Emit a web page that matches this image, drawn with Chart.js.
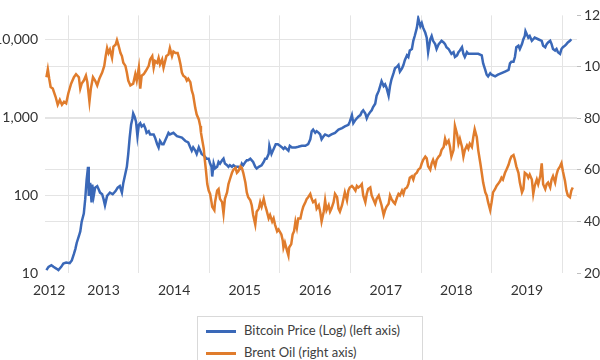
<!DOCTYPE html>
<html>
<head>
<meta charset="utf-8">
<script src="https://cdn.jsdelivr.net/npm/chart.js@4/dist/chart.umd.min.js"></script>
<style>
  html, body { margin: 0; padding: 0; background: #fff; overflow: hidden; }
  #wrap { position: relative; width: 600px; height: 360px; }
  #chartBox { position: absolute; left: 0; top: 0; width: 600px; height: 300px; }
  #legend {
    position: absolute; left: 197px; top: 316px; width: 226px; height: 50px;
    border: 1px solid #d9d9d9; box-sizing: border-box;
    font-family: Lato, "Open Sans", sans-serif; font-size: 13px; color: #404040;
  }
  .item { position: absolute; left: 8px; height: 16px; line-height: 16px; white-space: nowrap; }
  .item span.swatch { display: inline-block; width: 30px; height: 2.5px; vertical-align: middle; margin-right: 8px; }
</style>
</head>
<body>
<div id="wrap">
  <div id="chartBox"><canvas id="btcOil"></canvas></div>
  <div id="legend">
    <div class="item" style="top:5px"><span class="swatch" style="background:#3a68b8"></span>Bitcoin Price (Log) (left axis)</div>
    <div class="item" style="top:27px"><span class="swatch" style="background:#e07c2c"></span>Brent Oil (right axis)</div>
  </div>
</div>
<script>
/* ---- data ---- */
const yearLabels = ["2012", "2013", "2014", "2015", "2016", "2017", "2018", "2019"];
const gridYears = [2013, 2014, 2015, 2016, 2017, 2018, 2019, 2020];
const btcTicks = [10, 100, 1000, 10000];
const oilTicks = [20, 40, 60, 80, 100, 120];

const btcDates = [
  2012.69,2012.72,2012.76,2012.79,2012.83,2012.86,2012.90,2012.93,2012.97,2013.02,
  2013.05,2013.08,2013.10,2013.12,2013.15,2013.17,2013.19,2013.22,2013.24,2013.26,
  2013.28,2013.29,2013.31,2013.33,2013.34,2013.36,2013.38,2013.41,2013.43,2013.45,
  2013.48,2013.50,2013.52,2013.55,2013.57,2013.59,2013.63,2013.67,2013.70,2013.73,
  2013.76,2013.78,2013.81,2013.83,2013.85,2013.87,2013.89,2013.91,2013.92,2013.94,
  2013.96,2013.98,2014.00,2014.02,2014.04,2014.07,2014.09,2014.11,2014.14,2014.16,
  2014.21,2014.23,2014.26,2014.28,2014.30,2014.33,2014.35,2014.37,2014.40,2014.42,
  2014.44,2014.49,2014.54,2014.61,2014.66,2014.70,2014.73,2014.75,2014.77,2014.80,
  2014.82,2014.85,2014.87,2014.89,2014.92,2014.94,2014.96,2014.99,2015.01,2015.03,
  2015.04,2015.06,2015.08,2015.11,2015.13,2015.15,2015.18,2015.20,2015.22,2015.25,
  2015.27,2015.29,2015.32,2015.34,2015.37,2015.41,2015.44,2015.46,2015.48,2015.51,
  2015.53,2015.55,2015.58,2015.60,2015.62,2015.65,2015.67,2015.70,2015.74,2015.77,
  2015.79,2015.81,2015.84,2015.85,2015.88,2015.89,2015.92,2015.94,2015.97,2016.00,
  2016.03,2016.05,2016.07,2016.12,2016.14,2016.17,2016.22,2016.26,2016.31,2016.36,
  2016.40,2016.43,2016.45,2016.47,2016.50,2016.52,2016.55,2016.57,2016.59,2016.62,
  2016.64,2016.69,2016.73,2016.78,2016.83,2016.88,2016.92,2016.97,2016.99,2017.02,
  2017.04,2017.07,2017.09,2017.11,2017.14,2017.16,2017.18,2017.21,2017.23,2017.25,
  2017.28,2017.30,2017.32,2017.35,2017.37,2017.40,2017.42,2017.44,2017.47,2017.49,
  2017.51,2017.54,2017.56,2017.58,2017.61,2017.63,2017.66,2017.68,2017.70,2017.73,
  2017.75,2017.77,2017.80,2017.82,2017.84,2017.87,2017.89,2017.91,2017.94,2017.96,
  2017.99,2018.01,2018.03,2018.06,2018.08,2018.10,2018.13,2018.15,2018.17,2018.20,
  2018.22,2018.25,2018.27,2018.29,2018.32,2018.34,2018.36,2018.39,2018.43,2018.46,
  2018.48,2018.51,2018.53,2018.55,2018.58,2018.60,2018.62,2018.65,2018.67,2018.72,
  2018.76,2018.81,2018.86,2018.88,2018.91,2018.93,2018.95,2018.98,2019.00,2019.05,
  2019.09,2019.14,2019.19,2019.24,2019.26,2019.28,2019.31,2019.33,2019.35,2019.38,
  2019.40,2019.43,2019.45,2019.47,2019.48,2019.50,2019.52,2019.54,2019.57,2019.59,
  2019.61,2019.66,2019.71,2019.73,2019.76,2019.78,2019.80,2019.83,2019.85,2019.87,
  2019.90,2019.92,2019.94,2019.97,2019.99,2020.01,2020.04,2020.06,2020.08,2020.11,
  2020.13
];
const btcPrice = [
  10.9,12.0,12.6,12.0,11.4,10.9,12.0,13.2,13.6,13.4,
  14.5,17.6,20.3,24.5,29.7,34.3,45.7,58,89,158,
  232,98,144,81,137,98,125,131,119,108,
  103,89,74,98,103,108,103,113,125,131,
  108,144,192,232,340,550,804,975,1125,1021,
  883,575,804,844,766,804,731,634,664,604,
  604,550,453,412,498,453,453,498,575,634,
  604,634,575,550,498,476,412,374,412,374,
  340,412,374,340,324,309,295,295,255,232,
  174,255,221,232,268,255,281,295,255,243,
  232,243,232,243,232,232,221,255,243,268,
  281,281,295,281,268,232,221,232,243,268,
  295,295,340,432,340,357,412,453,453,432,
  412,393,412,374,432,412,412,420,432,432,
  453,523,664,697,634,664,634,604,523,575,
  604,575,604,634,697,731,766,804,883,1072,
  844,929,975,1021,1072,1178,1236,1125,975,1072,
  1178,1236,1359,1500,1901,2194,2531,2924,2531,2660,
  2411,1901,2531,3069,3707,4276,4496,4721,3891,4276,
  4721,5445,6281,5984,7257,7586,9660,11140,14160,18840,
  14860,16330,14160,12250,10620,6905,10120,11140,9660,8770,
  7586,8770,9204,9660,9204,8770,7980,7586,6574,6905,
  5984,6281,6905,7257,7980,6574,5984,6905,6574,6574,
  6574,6574,6281,4943,4083,3540,3373,3707,3540,3373,
  3540,3707,3891,4083,4943,5187,5187,5984,7980,8375,
  7586,8770,10120,11140,12850,11670,10620,11140,9660,10120,
  10620,10120,9660,8375,7980,8770,9204,9660,8770,7586,
  7257,7586,6905,6574,7586,7980,8375,8770,9204,9660,
  10120
];

const oilDates = [
  2012.69,2012.71,2012.73,2012.75,2012.78,2012.82,2012.85,2012.88,2012.91,2012.94,
  2012.97,2013.00,2013.04,2013.08,2013.11,2013.15,2013.17,2013.19,2013.22,2013.25,
  2013.27,2013.30,2013.32,2013.35,2013.38,2013.41,2013.44,2013.48,2013.51,2013.53,
  2013.55,2013.57,2013.59,2013.62,2013.64,2013.67,2013.69,2013.71,2013.74,2013.76,
  2013.78,2013.81,2013.83,2013.85,2013.88,2013.92,2013.95,2013.97,2014.00,2014.02,
  2014.04,2014.07,2014.10,2014.14,2014.16,2014.19,2014.21,2014.23,2014.26,2014.28,
  2014.30,2014.33,2014.35,2014.39,2014.42,2014.44,2014.47,2014.49,2014.52,2014.55,
  2014.57,2014.59,2014.61,2014.63,2014.66,2014.68,2014.70,2014.73,2014.75,2014.77,
  2014.80,2014.82,2014.85,2014.87,2014.88,2014.90,2014.92,2014.93,2014.95,2014.97,
  2014.99,2015.01,2015.03,2015.04,2015.07,2015.08,2015.11,2015.13,2015.15,2015.18,
  2015.20,2015.22,2015.25,2015.27,2015.29,2015.32,2015.34,2015.37,2015.39,2015.41,
  2015.44,2015.46,2015.48,2015.51,2015.53,2015.55,2015.58,2015.60,2015.62,2015.65,
  2015.67,2015.70,2015.72,2015.74,2015.77,2015.79,2015.81,2015.84,2015.86,2015.89,
  2015.91,2015.93,2015.96,2015.98,2016.02,2016.04,2016.05,2016.07,2016.10,2016.12,
  2016.13,2016.16,2016.18,2016.20,2016.22,2016.24,2016.26,2016.29,2016.31,2016.33,
  2016.36,2016.38,2016.40,2016.43,2016.45,2016.47,2016.50,2016.52,2016.55,2016.57,
  2016.59,2016.62,2016.64,2016.66,2016.69,2016.71,2016.73,2016.76,2016.78,2016.81,
  2016.83,2016.85,2016.88,2016.90,2016.92,2016.95,2016.97,2016.99,2017.02,2017.04,
  2017.07,2017.09,2017.11,2017.14,2017.16,2017.18,2017.21,2017.23,2017.25,2017.28,
  2017.30,2017.32,2017.35,2017.37,2017.40,2017.42,2017.44,2017.47,2017.49,2017.51,
  2017.54,2017.56,2017.58,2017.61,2017.63,2017.66,2017.68,2017.70,2017.73,2017.75,
  2017.77,2017.80,2017.82,2017.84,2017.87,2017.89,2017.91,2017.94,2017.96,2017.99,
  2018.01,2018.03,2018.06,2018.08,2018.10,2018.13,2018.15,2018.17,2018.20,2018.22,
  2018.25,2018.27,2018.29,2018.32,2018.34,2018.36,2018.39,2018.41,2018.43,2018.46,
  2018.48,2018.51,2018.53,2018.55,2018.58,2018.60,2018.62,2018.65,2018.67,2018.69,
  2018.72,2018.74,2018.76,2018.79,2018.81,2018.84,2018.86,2018.88,2018.91,2018.93,
  2018.95,2018.98,2019.00,2019.02,2019.05,2019.07,2019.09,2019.12,2019.14,2019.16,
  2019.19,2019.21,2019.24,2019.26,2019.28,2019.31,2019.33,2019.35,2019.38,2019.40,
  2019.43,2019.45,2019.47,2019.50,2019.52,2019.54,2019.57,2019.59,2019.61,2019.64,
  2019.66,2019.69,2019.71,2019.73,2019.76,2019.78,2019.80,2019.83,2019.85,2019.87,
  2019.90,2019.92,2019.94,2019.97,2019.99,2020.01,2020.04,2020.06,2020.08,2020.11,
  2020.13,2020.15
];
const oilPrice = [
  96.0,99.1,95.4,92.2,91.6,88.4,85.3,87.2,85.3,86.5,
  85.9,89.7,93.5,96.0,97.2,96.0,91.6,93.5,94.7,96.6,
  94.1,86.5,91.6,96.0,94.7,92.8,95.4,97.8,100.4,104.2,
  107.3,105.4,106.7,103.5,107.9,108.6,110.4,108.6,105.4,104.2,
  101.6,100.4,97.8,94.7,92.8,93.5,97.2,94.7,99.7,91.6,
  96.6,97.2,98.5,100.4,102.9,104.2,99.7,102.3,101.6,103.5,
  101.0,102.9,99.7,104.2,104.8,107.3,104.2,106.0,105.4,105.4,
  103.5,101.0,97.8,96.6,96.0,94.7,95.4,94.1,90.9,89.1,
  84.0,81.5,79.6,77.1,74.6,71.4,68.3,65.2,60.1,54.5,
  52.0,50.7,47.5,45.7,44.4,47.5,52.0,52.6,48.8,47.5,
  43.1,48.8,51.3,54.5,56.3,58.9,60.1,60.8,58.9,59.5,
  61.4,60.8,58.9,55.1,51.3,49.4,48.2,46.3,42.5,38.8,
  43.8,45.0,47.5,45.7,48.8,46.3,44.4,41.2,42.5,40.0,
  41.2,38.8,36.2,36.9,35.0,32.5,29.9,31.8,28.7,26.8,
  29.9,31.2,35.0,36.2,40.0,37.5,41.2,41.2,43.8,45.7,
  47.5,48.8,49.4,50.7,48.8,47.5,48.2,45.0,46.3,43.8,
  40.0,43.8,48.2,44.4,46.3,43.8,45.0,47.5,50.7,49.4,
  45.0,43.8,46.3,48.8,51.3,48.2,52.0,53.2,53.8,53.2,
  52.0,53.8,53.2,53.8,54.5,50.1,47.5,50.7,52.6,53.2,
  50.1,48.8,46.9,48.8,50.1,48.2,46.3,42.5,44.4,45.7,
  46.9,50.1,48.8,47.5,46.9,49.4,50.7,50.1,52.0,50.7,
  52.6,53.2,54.5,57.0,57.6,56.3,58.2,58.9,60.1,60.8,
  62.6,63.9,65.2,64.5,61.4,60.1,62.6,63.9,61.4,63.9,
  65.2,65.8,67.7,68.9,72.1,70.2,71.4,68.9,65.2,67.7,
  77.1,74.0,70.2,72.1,68.9,65.2,67.7,69.5,68.3,70.2,
  68.9,72.7,75.8,72.7,67.7,62.6,58.9,55.1,51.3,50.1,
  47.5,44.4,47.5,51.3,52.6,53.8,54.5,55.7,57.0,56.3,
  58.9,60.1,62.0,63.9,65.2,65.8,63.9,61.4,58.9,55.1,
  51.3,52.6,58.9,58.2,57.0,58.2,56.3,50.7,53.8,56.3,
  54.5,57.6,62.6,54.5,52.6,54.5,55.1,53.2,56.3,57.6,
  55.1,58.2,60.1,61.4,62.6,59.5,55.7,52.0,50.1,49.4,
  52.0,53.2
];

/* ---- chart ---- */
const X_MIN = 2012.67, X_MAX = 2020.21;
const tickFont = { family: "Lato, 'Open Sans', sans-serif", size: 14 };
const gridGray = "#e4e4e4";

new Chart(document.getElementById("btcOil"), {
  type: "line",
  data: {
    datasets: [
      {
        label: "Bitcoin Price (Log) (left axis)",
        data: btcDates.map((d, i) => ({ x: d, y: btcPrice[i] })),
        yAxisID: "btc",
        borderColor: "#3a68b8",
        borderWidth: 2.5,
        pointRadius: 0,
        order: 1
      },
      {
        label: "Brent Oil (right axis)",
        data: oilDates.map((d, i) => ({ x: d, y: oilPrice[i] })),
        yAxisID: "oil",
        borderColor: "#e07c2c",
        borderWidth: 2.5,
        pointRadius: 0,
        order: 0
      }
    ]
  },
  options: {
    responsive: true,
    maintainAspectRatio: false,
    animation: false,
    layout: { padding: { top: 8, left: 0, right: 0, bottom: 0 } },
    plugins: { legend: { display: false }, tooltip: { enabled: false } },
    scales: {
      x: {
        type: "linear", min: X_MIN, max: X_MAX,
        afterBuildTicks: s => { s.ticks = gridYears.map(v => ({ value: v })); },
        afterFit: s => { s.height = 0; },
        ticks: { display: false },
        grid: { color: gridGray, drawTicks: false },
        border: { display: false }
      },
      xl: {
        type: "linear", position: "bottom", min: X_MIN, max: X_MAX,
        afterBuildTicks: s => {
          s.ticks = yearLabels.map(y => ({ value: Math.max(+y + 0.5, X_MIN + 0.06) }));
        },
        afterFit: s => { s.height = 27; },
        ticks: {
          autoSkip: false, maxRotation: 0, padding: 1,
          font: tickFont, color: "#333",
          callback: (v, i) => yearLabels[i]
        },
        grid: { display: false },
        border: { display: false }
      },
      btc: {
        type: "logarithmic", position: "left", min: 10, max: 20500,
        afterBuildTicks: s => { s.ticks = btcTicks.map(v => ({ value: v })); },
        afterFit: s => { s.width = 45; },
        ticks: {
          padding: 7, font: tickFont, color: "#333",
          callback: v => v.toLocaleString("en-US")
        },
        grid: {
          drawTicks: false,
          color: c => (c.tick && c.tick.value === 10 ? "rgba(0,0,0,0)" : gridGray)
        },
        border: { display: false }
      },
      oil: {
        type: "linear", position: "right", min: 20, max: 120,
        afterBuildTicks: s => { s.ticks = oilTicks.map(v => ({ value: v })); },
        afterFit: s => { s.width = 23; },
        ticks: { padding: 3, font: tickFont, color: "#333" },
        grid: {
          tickLength: 4,
          tickColor: "#bfbfbf",
          color: c => (c.tick && (c.tick.value === 20 || c.tick.value === 120) ? "rgba(0,0,0,0)" : gridGray)
        },
        border: { display: false }
      }
    }
  }
});
</script>
</body>
</html>
